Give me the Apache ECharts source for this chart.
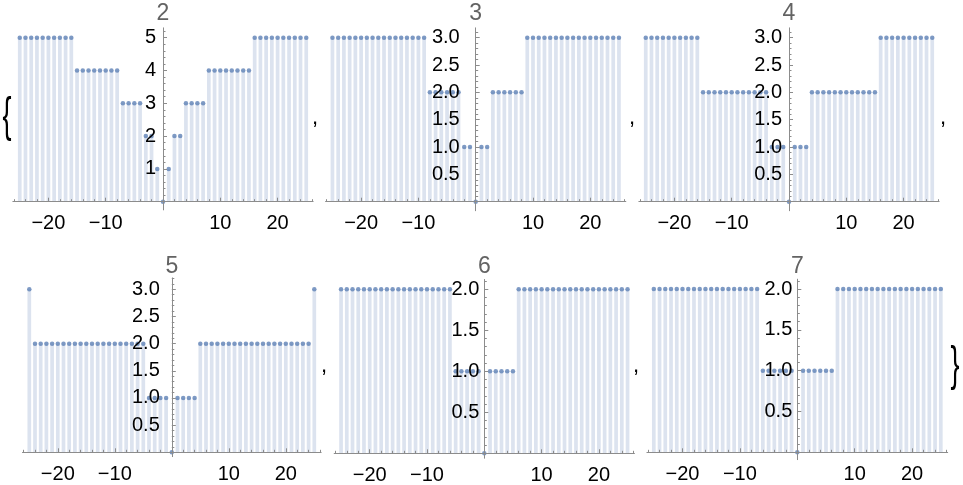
<!DOCTYPE html>
<html><head><meta charset="utf-8">
<script src="https://cdn.jsdelivr.net/npm/echarts@6/dist/echarts.min.js"></script>
<style>html,body{margin:0;padding:0;background:#fff}#c{width:963px;height:485px}</style>
</head><body><div id="c"></div>
<script>
// n = -25 .. 25
const n = [-25,-24,-23,-22,-21,-20,-19,-18,-17,-16,-15,-14,-13,-12,-11,-10,-9,-8,-7,-6,-5,-4,-3,-2,-1,0,1,2,3,4,5,6,7,8,9,10,11,12,13,14,15,16,17,18,19,20,21,22,23,24,25];
const base2 = [5,5,5,5,5,5,5,5,5,5, 4,4,4,4,4,4,4,4, 3,3,3,3, 2,2, 1, 0, 1, 2,2, 3,3,3,3, 4,4,4,4,4,4,4,4, 5,5,5,5,5,5,5,5,5,5];
const base3 = [3,3,3,3,3,3,3,3,3,3,3,3,3,3,3,3,3, 2,2,2,2,2,2, 1,1, 0, 1,1, 2,2,2,2,2,2, 3,3,3,3,3,3,3,3,3,3,3,3,3,3,3,3,3];
const base4 = [3,3,3,3,3,3,3,3,3,3, 2,2,2,2,2,2,2,2,2,2,2,2, 1,1,1, 0, 1,1,1, 2,2,2,2,2,2,2,2,2,2,2,2, 3,3,3,3,3,3,3,3,3,3];
const base5 = [3, 2,2,2,2,2,2,2,2,2,2,2,2,2,2,2,2,2,2,2,2, 1,1,1,1, 0, 1,1,1,1, 2,2,2,2,2,2,2,2,2,2,2,2,2,2,2,2,2,2,2,2, 3];
const base6 = [2,2,2,2,2,2,2,2,2,2,2,2,2,2,2,2,2,2,2,2, 1,1,1,1,1, 0, 1,1,1,1,1, 2,2,2,2,2,2,2,2,2,2,2,2,2,2,2,2,2,2,2,2];
const base7 = [2,2,2,2,2,2,2,2,2,2,2,2,2,2,2,2,2,2,2, 1,1,1,1,1,1, 0, 1,1,1,1,1,1, 2,2,2,2,2,2,2,2,2,2,2,2,2,2,2,2,2,2,2];
const titles = ['2','3','4','5','6','7'];
const xTickLabels = [-20,-10,10,20];
const xMinorTicks = [-26,-24,-22,-18,-16,-14,-12,-8,-6,-4,-2,2,4,6,8,12,14,16,18,22,24,26];
const yTicksA = [1,2,3,4,5];
const yTicksB = [0.5,1,1.5,2,2.5,3];
const yTicksC = [0.5,1,1.5,2];

const FONT = '"Liberation Sans", Arial, sans-serif';
const AXIS = '#8c8c8c';
const XR = 26.2;

const panels = [
  {vals: base2, yt: yTicksA, step: 0.2, dec: 0, zx:163,   zy:201.7, sx:5.73, sy:32.8,  ymin:-0.25,  ymax:5.3,  ty:13.5, lm:7},
  {vals: base3, yt: yTicksB, step: 0.1, dec: 1, zx:475.7, zy:201.7, sx:5.73, sy:54.67, ymin:-0.165, ymax:3.18, ty:13.5, lm:16},
  {vals: base4, yt: yTicksB, step: 0.1, dec: 1, zx:789,   zy:201.7, sx:5.73, sy:54.67, ymin:-0.165, ymax:3.18, ty:13.5, lm:7},
  {vals: base5, yt: yTicksB, step: 0.1, dec: 1, zx:171.8, zy:452.3, sx:5.7,  sy:54.33, ymin:-0.08,  ymax:3.21, ty:266.5, lm:12},
  {vals: base6, yt: yTicksC, step: 0.1, dec: 1, zx:484.3, zy:453.3, sx:5.73, sy:82,    ymin:-0.06,  ymax:2.12, ty:266.5, lm:5},
  {vals: base7, yt: yTicksC, step: 0.1, dec: 1, zx:797.3, zy:452.3, sx:5.74, sy:81.65, ymin:-0.09,  ymax:2.12, ty:266.5, lm:5}
];

const grid = [], xAxis = [], yAxis = [], series = [], graphic = [];
panels.forEach((p, i) => {
  const left = p.zx - XR * p.sx, width = 2 * XR * p.sx;
  const top = p.zy - p.ymax * p.sy, height = (p.ymax - p.ymin) * p.sy;
  grid.push({left: left, top: top, width: width, height: height, containLabel: false, outerBoundsMode: 'none'});
  const xOff = p.ymin * p.sy;          // move x axis up to y = 0
  const yOff = -(p.zx - left);         // move y axis right to x = 0
  const yMinor = [];
  for (let k = 1; k * p.step <= p.ymax + 1e-9; k++) {
    const v = Math.round(k * p.step * 1000) / 1000;
    if (p.yt.indexOf(v) < 0) yMinor.push(v);
  }
  const common = {gridIndex: i, type: 'value', z: 10, splitLine: {show: false}, minorTick: {show: false}};
  xAxis.push(Object.assign({}, common, {
    min: -XR, max: XR, position: 'bottom', offset: xOff,
    axisLine: {show: true, onZero: false, lineStyle: {color: AXIS, width: 1}},
    axisTick: {show: true, inside: true, length: 4, customValues: xTickLabels, lineStyle: {color: AXIS}},
    axisLabel: {show: true, customValues: xTickLabels, margin: 12, color: '#000', fontSize: 20, fontFamily: FONT,
      formatter: v => v < 0 ? '\u2212' + Math.abs(v) : String(v)}
  }));
  xAxis.push(Object.assign({}, common, {
    min: -XR, max: XR, position: 'bottom', offset: xOff,
    axisLine: {show: false, onZero: false},
    axisTick: {show: true, inside: true, length: 2.5, customValues: xMinorTicks, lineStyle: {color: AXIS}},
    axisLabel: {show: false}
  }));
  yAxis.push(Object.assign({}, common, {
    min: p.ymin, max: p.ymax, position: 'left', offset: yOff,
    axisLine: {show: true, onZero: false, lineStyle: {color: AXIS, width: 1}},
    axisTick: {show: true, inside: true, length: 4, customValues: p.yt, lineStyle: {color: AXIS}},
    axisLabel: {show: true, customValues: p.yt, margin: p.lm, color: '#000', fontSize: 20, fontFamily: FONT,
      formatter: v => p.dec ? Number(v).toFixed(1) : String(v)}
  }));
  yAxis.push(Object.assign({}, common, {
    min: p.ymin, max: p.ymax, position: 'left', offset: yOff,
    axisLine: {show: false, onZero: false},
    axisTick: {show: true, inside: true, length: 2.5, customValues: yMinor, lineStyle: {color: AXIS}},
    axisLabel: {show: false}
  }));
  const data = n.map((x, j) => [x, p.vals[j]]);
  series.push({type: 'bar', xAxisIndex: 2 * i, yAxisIndex: 2 * i, data: data, barWidth: 3.7,
    itemStyle: {color: '#dce3ef'}, silent: true, animation: false, z: 2});
  series.push({type: 'scatter', xAxisIndex: 2 * i, yAxisIndex: 2 * i, data: data, symbolSize: 4.5,
    itemStyle: {color: '#5e81b5'}, silent: true, animation: false, z: 3});
  graphic.push({type: 'text', x: p.zx, y: p.ty, z: 20, style: {text: titles[i], fill: '#636363', font: '23px ' + FONT,
    textAlign: 'center', textVerticalAlign: 'middle'}});
});

const punct = [
  {t: '{', x: 7, y: 118, s: 36, sx: 0.75, sy: 1.35},
  {t: ',', x: 315, y: 118, s: 22, sx: 1, sy: 1},
  {t: ',', x: 632, y: 118, s: 22, sx: 1, sy: 1},
  {t: ',', x: 943, y: 118, s: 22, sx: 1, sy: 1},
  {t: ',', x: 324, y: 366, s: 22, sx: 1, sy: 1},
  {t: ',', x: 636, y: 366, s: 22, sx: 1, sy: 1},
  {t: '}', x: 955, y: 367, s: 36, sx: 0.75, sy: 1.35}
];
punct.forEach(q => graphic.push({type: 'text', x: q.x, y: q.y, scaleX: q.sx, scaleY: q.sy, z: 20,
  style: {text: q.t, fill: '#000', font: q.s + 'px ' + FONT, textAlign: 'center', textVerticalAlign: 'middle'}}));

const chart = echarts.init(document.getElementById('c'), null, {renderer: 'canvas'});
chart.setOption({animation: false, grid: grid, xAxis: xAxis, yAxis: yAxis, series: series, graphic: graphic});
</script>
</body></html>
